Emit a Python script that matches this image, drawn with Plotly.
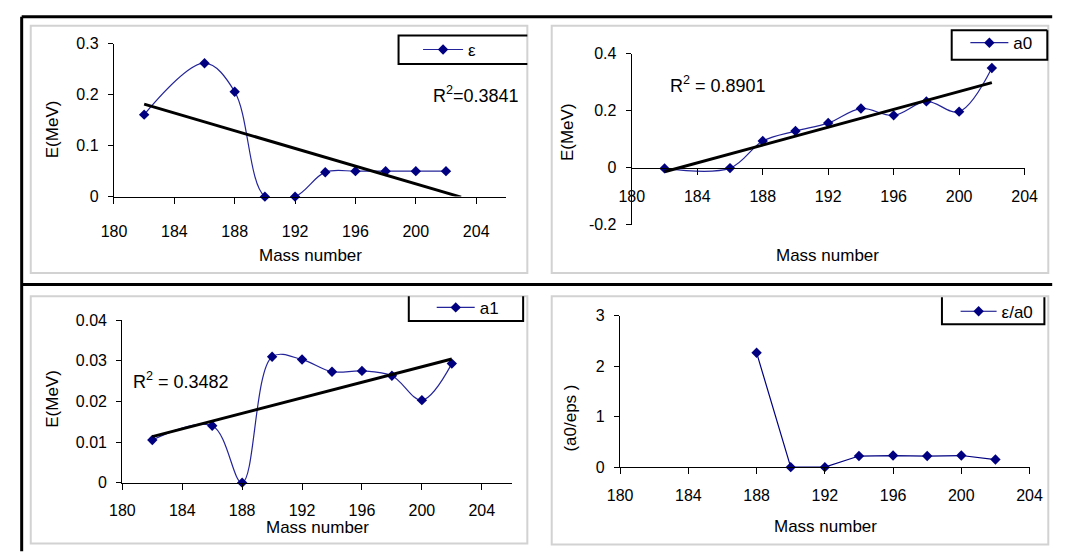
import numpy as np
import plotly.graph_objects as go

W, H = 1065, 558
FONT = "Arial, Liberation Sans, sans-serif"
PAGE_MARGIN = 8  # default body margin of the html page

# ---------------- data ----------------
mass = [182, 186, 188, 190, 192, 194, 196, 198, 200, 202]
eps = [0.161, 0.262, 0.206, 0.0, 0.0, 0.048, 0.05, 0.05, 0.05, 0.05]
a0 = [-0.003, -0.002, 0.093, 0.128, 0.156, 0.207, 0.183, 0.232, 0.196, 0.349]
a1 = [0.0105, 0.014, 0.0, 0.031, 0.0303, 0.0273, 0.0275, 0.0263, 0.0203, 0.0293]
mass_ratio = [188, 190, 192, 194, 196, 198, 200, 202]
eps_over_a0 = [2.27, 0.0, 0.0, 0.22, 0.23, 0.22, 0.23, 0.15]

series_names = ["ε", "a0", "a1", "ε/a0"]
r2_labels = ["R<sup>2</sup>=0.3841", "R<sup>2</sup> = 0.8901", "R<sup>2</sup> = 0.3482"]
x_ticks = [180, 184, 188, 192, 196, 200, 204]
y1_ticks = [0, 0.1, 0.2, 0.3]
y1_text = ["0", "0.1", "0.2", "0.3"]
y2_ticks = [-0.2, 0, 0.2, 0.4]
y2_text = ["-0.2", "0", "0.2", "0.4"]
y3_ticks = [0, 0.01, 0.02, 0.03, 0.04]
y3_text = ["0", "0.01", "0.02", "0.03", "0.04"]
y4_ticks = [0, 1, 2, 3]
y4_text = ["0", "1", "2", "3"]
trend_span = [[182, 203], [182, 202], [182, 202]]


def fx(x):
    return (x - PAGE_MARGIN) / W


def fy(y):
    return 1 - (y - PAGE_MARGIN) / H


LINE_C = "#24249a"
MARK_C = "#000080"

fig = go.Figure()


def data_trace(x, y, name, xa, ya, legend, smooth=True):
    return go.Scatter(
        x=x, y=y, name=name, xaxis=xa, yaxis=ya, legend=legend,
        mode="lines+markers",
        line=dict(color=LINE_C if smooth else MARK_C, width=1.2,
                  shape="spline" if smooth else "linear", smoothing=1.0),
        marker=dict(symbol="diamond", size=8, color=MARK_C),
        cliponaxis=False,
    )


def trend_trace(x, y, span, xa, ya):
    k, b = np.polyfit(x, y, 1)
    xs = np.array(span, dtype=float)
    return go.Scatter(
        x=xs, y=k * xs + b, xaxis=xa, yaxis=ya, mode="lines",
        line=dict(color="black", width=3), showlegend=False, hoverinfo="skip",
    )


fig.add_trace(data_trace(mass, eps, series_names[0], "x", "y", "legend"))
fig.add_trace(trend_trace(mass, eps, trend_span[0], "x", "y"))
fig.add_trace(data_trace(mass, a0, series_names[1], "x2", "y2", "legend2"))
fig.add_trace(trend_trace(mass, a0, trend_span[1], "x2", "y2"))
fig.add_trace(data_trace(mass, a1, series_names[2], "x3", "y3", "legend3"))
fig.add_trace(trend_trace(mass, a1, trend_span[2], "x3", "y3"))
fig.add_trace(data_trace(mass_ratio, eps_over_a0, series_names[3], "x4", "y4", "legend4", smooth=False))

tickfont = dict(family=FONT, size=16, color="black")
ax = dict(showline=True, linecolor="black", linewidth=1.3, ticks="outside",
          tickcolor="black", tickwidth=1.3, showgrid=False, zeroline=False,
          tickfont=tickfont, fixedrange=True)

layout = dict(
    width=W, height=H, margin=dict(l=0, r=0, t=0, b=0),
    paper_bgcolor="white", plot_bgcolor="white",
    font=dict(family=FONT, size=16, color="black"),
    xaxis=dict(ax, domain=[fx(103.3), fx(505.5)], range=[180, 206], tickvals=x_ticks,
               ticklen=6, anchor="y", ticklabelstandoff=14),
    yaxis=dict(ax, domain=[fy(194.3), fy(36.7)], range=[0, 0.3], tickvals=y1_ticks,
               ticktext=y1_text, ticklen=5, anchor="x", ticklabelstandoff=6),
    xaxis2=dict(ax, domain=[fx(634.1), fx(1036.7)], range=[180, 204], tickvals=x_ticks,
                ticklen=6, anchor="free", position=fy(164.3), ticklabelstandoff=8),
    yaxis2=dict(ax, domain=[fy(223.1), fy(46.7)], range=[-0.2, 0.4], tickvals=y2_ticks,
                ticktext=y2_text, ticklen=5, anchor="x2", ticklabelstandoff=6),
    xaxis3=dict(ax, domain=[fx(111.9), fx(511)], range=[180, 206], tickvals=x_ticks,
                ticklen=6, anchor="y3", ticklabelstandoff=7),
    yaxis3=dict(ax, domain=[fy(489.3), fy(321.7)], range=[0, 0.04], tickvals=y3_ticks,
                ticktext=y3_text, ticklen=5, anchor="x3", ticklabelstandoff=6),
    xaxis4=dict(ax, domain=[fx(622.1), fx(1041.8)], range=[180, 204], tickvals=x_ticks,
                ticklen=6, anchor="y4", ticklabelstandoff=8),
    yaxis4=dict(ax, domain=[fy(473.3), fy(317.3)], range=[0, 3], tickvals=y4_ticks,
                ticktext=y4_text, ticklen=5, anchor="x4", ticklabelstandoff=6),
)

leg = dict(bgcolor="rgba(0,0,0,0)", borderwidth=0, xanchor="left", yanchor="middle",
           font=dict(family=FONT, size=17, color="black"))
layout["legend"] = dict(leg, x=fx(415), y=fy(43), itemwidth=40)
layout["legend2"] = dict(leg, x=fx(976), y=fy(36), itemwidth=38)
layout["legend3"] = dict(leg, x=fx(429), y=fy(309), itemwidth=38)
layout["legend4"] = dict(leg, x=fx(966), y=fy(313), itemwidth=36)

fig.update_layout(**layout)

# ---------------- decorations ----------------
shapes = []
for (x0, y0, x1, y1) in [(18, 18, 527, 273), (552, 18, 1061, 273),
                         (18, 297, 527, 552), (552, 297, 1061, 553)]:
    shapes.append(dict(type="rect", xref="paper", yref="paper",
                       x0=fx(x0), x1=fx(x1), y0=fy(y1), y1=fy(y0),
                       line=dict(color="#d2d2d2", width=2), layer="below"))
for (x0, y0, x1, y1) in [(8.7, 8.7, 1065, 8.7), (8.7, 8.7, 8.7, 560), (8.7, 285, 1065, 285)]:
    shapes.append(dict(type="line", xref="paper", yref="paper",
                       x0=fx(x0), x1=fx(x1), y0=fy(y0), y1=fy(y1),
                       line=dict(color="black", width=3)))


def path(points):
    d = "M " + " L ".join(f"{fx(px):.5f},{fy(py):.5f}" for px, py in points)
    return dict(type="path", xref="paper", yref="paper", path=d,
                line=dict(color="black", width=2))


shapes.append(path([(527, 28), (395, 28), (395, 57.5), (527, 57.5)]))
shapes.append(path([(1060, 22.7), (962, 22.7), (962, 53), (1060, 53), (1060, 22.7)]))
shapes.append(path([(405.5, 297), (405.5, 322.5), (522.7, 322.5), (522.7, 297)]))
shapes.append(path([(952, 298), (952, 326), (1057, 326), (1057, 298)]))

fig.update_layout(shapes=shapes)

annots = []
tfont = dict(family=FONT, size=17, color="black")
for (x, y, t, ang) in [(40.6, 125, "E(MeV)", -90), (305, 255, "Mass number", 0),
                       (568.4, 128, "E(MeV)", -90), (835, 255, "Mass number", 0),
                       (40.6, 403, "E(MeV)", -90), (311.6, 536, "Mass number", 0),
                       (571, 423, "(a0/eps )", -90), (832.6, 535, "Mass number", 0)]:
    annots.append(dict(x=fx(x), y=fy(y), xref="paper", yref="paper", text=t,
                       showarrow=False, textangle=ang, font=tfont,
                       xanchor="center", yanchor="middle"))
for (x, y), t in zip([(474, 89), (722.5, 79), (171.5, 384)], r2_labels):
    annots.append(dict(x=fx(x), y=fy(y), xref="paper", yref="paper", text=t,
                       showarrow=False, font=dict(family=FONT, size=18, color="black"),
                       xanchor="center", yanchor="middle"))
fig.update_layout(annotations=annots)

fig.write_html("out.html", config={"displayModeBar": False})
